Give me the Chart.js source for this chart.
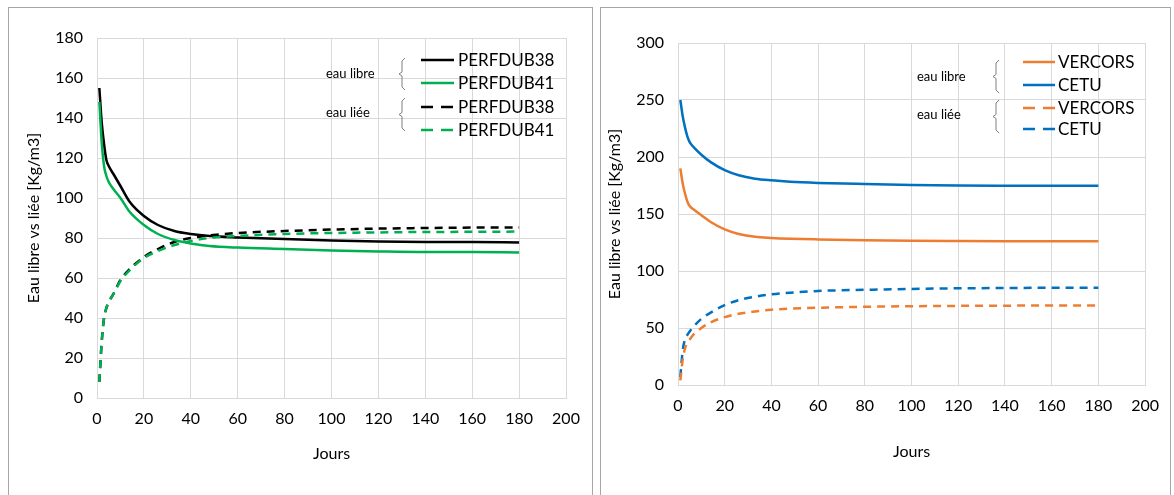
<!DOCTYPE html>
<html>
<head>
<meta charset="utf-8">
<script src="https://cdn.jsdelivr.net/npm/chart.js@4.4.1/dist/chart.umd.min.js"></script>
<style>
  html, body { margin: 0; padding: 0; background: #fff; }
  body { width: 1174px; height: 495px; position: relative; overflow: hidden; }
  .panel { position: absolute; border: 1px solid #a6a6a6; box-sizing: border-box; }
  #p1 { left: 8px; top: 7px; width: 585px; height: 500px; }
  #p2 { left: 600px; top: 7px; width: 571px; height: 500px; }
  canvas { position: absolute; }
  #c1 { left: 9px; top: 8px; }
  #c2 { left: 601px; top: 8px; }
</style>
</head>
<body>
<div class="panel" id="p1"></div>
<div class="panel" id="p2"></div>
<canvas id="c1" width="583" height="487" style="width:583px;height:487px"></canvas>
<canvas id="c2" width="569" height="487" style="width:569px;height:487px"></canvas>
<script>
// days sampled from the curves
var days = [1,2,3,4,5,7,10,14,20,26,33,40,48,60,80,100,120,140,160,180];

// left chart: eau libre
var libre38 = [155,138,127,119,116,112,106,98,91,86.5,83.5,82,81,80.3,79.5,78.7,78.2,78,78,77.8];
var libre41 = [148,128,116,111,108,104.5,100,93,86.5,82,79,77.3,76,75.2,74.5,73.8,73.3,73,73,72.8];
// left chart: eau liée
var liee38 = [8,28,40,45,48,52,59,64.5,70.5,74.5,78,80,81.3,82.5,83.5,84.2,84.7,85,85.2,85.3];
var liee41 = [8,28,40,45,48,52,58.5,64,70,73.5,76.5,78.5,80,81,82,82.5,82.8,83,83.1,83.2];

// right chart: eau libre
var libreVercors = [190,177,168,161,157,153.5,149,143,136.5,132.5,130,129,128.3,127.7,127,126.5,126.3,126.2,126.2,126.2];
var libreCetu = [250,236,226,218,213,208,202,195.5,188.5,184,181,179.5,178.3,177.3,176.3,175.5,175,174.8,174.7,174.7];
// right chart: eau liée
var lieeVercors = [4,22,32,37,40,45,50,55,59.5,62.5,64.5,66,67,67.8,68.6,69.1,69.4,69.6,69.7,69.8];
var lieeCetu = [7,30,40,44,47,52,58,63.5,70,74.5,77.5,79.5,81,82.5,83.5,84.3,84.8,85.1,85.3,85.4];

var leftLabels = ['PERFDUB38','PERFDUB41','PERFDUB38','PERFDUB41'];
var rightLabels = ['VERCORS','CETU','VERCORS','CETU'];
var groupLabels = ['eau libre','eau liée'];

var FONT = 'Lato, "Open Sans", sans-serif';

function pts(arr){ return arr.map(function(v,i){ return {x: days[i], y: v}; }); }

// order: lower value is drawn on top
function ds(label, arr, color, dashed, order){
    return {
        label: label, data: pts(arr), borderColor: color, backgroundColor: color,
        borderWidth: 2.5, pointRadius: 0, cubicInterpolationMode: 'monotone',
        borderDash: dashed ? [8,6] : [], fill: false, order: order
    };
}

// legend with "eau libre / eau liée" braces, drawn on the canvas
var bracketLegend = {
    id: 'bracketLegend',
    afterDraw: function(chart){
        var o = chart.options.plugins.bracketLegend;
        if (!o) return;
        var ctx = chart.ctx;
        ctx.save();
        chart.data.datasets.forEach(function(d, i){
            var y = o.rows[i];
            ctx.strokeStyle = d.borderColor;
            ctx.lineWidth = 2.5;
            ctx.setLineDash(d.borderDash && d.borderDash.length ? [12,8] : []);
            ctx.beginPath();
            ctx.moveTo(o.lineX, y);
            ctx.lineTo(o.lineX + o.lineW, y);
            ctx.stroke();
            ctx.setLineDash([]);
            ctx.fillStyle = '#000';
            ctx.font = '17px ' + FONT;
            ctx.textBaseline = 'middle';
            ctx.textAlign = 'left';
            ctx.fillText(d.label, o.textX, y + 1);
        });
        ctx.font = '13px ' + FONT;
        ctx.fillStyle = '#000';
        o.groups.forEach(function(g, i){
            ctx.fillText(groupLabels[i], o.groupX, g.labelY);
            var x = o.braceX, t = g.top, b = g.bottom, m = (t + b) / 2;
            ctx.strokeStyle = '#7f7f7f';
            ctx.lineWidth = 1;
            ctx.beginPath();
            ctx.moveTo(x + 4, t);
            ctx.lineTo(x + 1, t + 3);
            ctx.lineTo(x + 1, m - 2);
            ctx.lineTo(x - 2, m);
            ctx.lineTo(x + 1, m + 2);
            ctx.lineTo(x + 1, b - 3);
            ctx.lineTo(x + 4, b);
            ctx.stroke();
        });
        ctx.restore();
    }
};

function makeChart(id, datasets, yMax, yStep, sizes, legend){
    var grid = { color: '#d9d9d9', lineWidth: 1, drawTicks: false };
    return new Chart(document.getElementById(id), {
        type: 'line',
        data: { datasets: datasets },
        plugins: [bracketLegend],
        options: {
            responsive: false, animation: false,
            layout: { padding: { left: 0, top: sizes.top, right: sizes.right, bottom: sizes.bottom } },
            plugins: { legend: { display: false }, tooltip: { enabled: false }, bracketLegend: legend },
            scales: {
                x: {
                    type: 'linear', min: 0, max: 200,
                    ticks: { stepSize: 20, color: '#000', font: { family: FONT, size: 16 }, padding: sizes.xTickPad, maxRotation: 0 },
                    grid: grid, border: { color: '#d9d9d9' },
                    title: { display: true, text: 'Jours', color: '#000', font: { family: FONT, size: 16 }, padding: { top: 0, bottom: sizes.xTitlePad } },
                    afterFit: function(s){ s.height = sizes.xH; }
                },
                y: {
                    min: 0, max: yMax,
                    ticks: { stepSize: yStep, color: '#000', font: { family: FONT, size: 16 }, padding: sizes.yTickPad },
                    grid: grid, border: { color: '#d9d9d9' },
                    title: { display: true, text: 'Eau libre vs liée [Kg/m3]', color: '#000', font: { family: FONT, size: 16 }, padding: { top: sizes.yTitlePad, bottom: 0 } },
                    afterFit: function(s){ s.width = sizes.yW; }
                }
            }
        }
    });
}

makeChart('c1', [
    ds(leftLabels[0], libre38, '#000000', false, 2),
    ds(leftLabels[1], libre41, '#00b050', false, 1),
    ds(leftLabels[2], liee38, '#000000', true, 3),
    ds(leftLabels[3], liee41, '#00b050', true, 0)
], 180, 20,
{ top: 30, right: 26, bottom: 27, xH: 70, yW: 88, xTickPad: 11, xTitlePad: 5, yTickPad: 14, yTitlePad: 15 },
{ rows: [52,75,99,122], lineX: 412, lineW: 33, textX: 449, groupX: 317, braceX: 392,
  groups: [{ labelY: 66, top: 50, bottom: 82 }, { labelY: 105, top: 90, bottom: 123 }] });

makeChart('c2', [
    ds(rightLabels[0], libreVercors, '#ed7d31', false, 1),
    ds(rightLabels[1], libreCetu, '#0070c0', false, 2),
    ds(rightLabels[2], lieeVercors, '#ed7d31', true, 0),
    ds(rightLabels[3], lieeCetu, '#0070c0', true, 3)
], 300, 50,
{ top: 35, right: 20, bottom: 30, xH: 80, yW: 77, xTickPad: 11, xTitlePad: 4, yTickPad: 14, yTitlePad: 4 },
{ rows: [54,77,100,121], lineX: 422, lineW: 32, textX: 457, groupX: 316, braceX: 394,
  groups: [{ labelY: 69, top: 52, bottom: 85 }, { labelY: 107, top: 92, bottom: 125 }] });
</script>
</body>
</html>
